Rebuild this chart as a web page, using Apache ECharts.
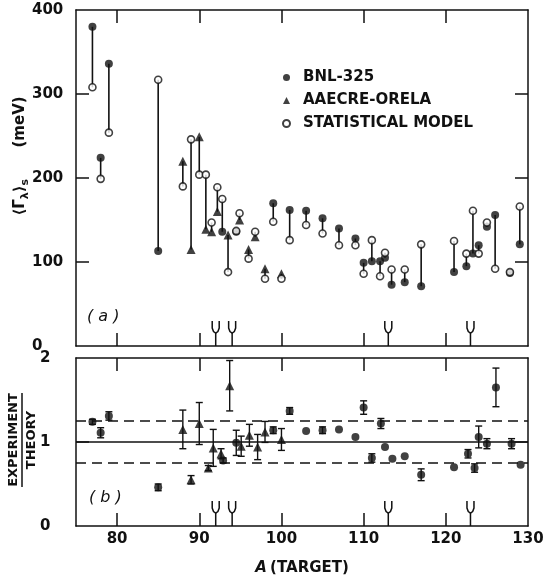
<!DOCTYPE html>
<html><head><meta charset="utf-8">
<script src="https://cdn.jsdelivr.net/npm/echarts@6/dist/echarts.min.js"></script>
<style>html,body{margin:0;padding:0;background:#fff;}#c{width:543px;height:583px;}</style>
</head><body><div id="c"></div>
<script>
// ---- Data ----
const bnlA      = [77,78,79,85,92.8,94.5,99,101,103,105,107,109,110,111,112,112.6,113.4,115,117,121,122.5,123.3,124,125,126,127.8,129];
const bnlGamma  = [380,224,336,113,136,136,170,162,161,152,140,128,99,101,101,105,73,76,71,88,95,110,120,142,156,87,121];
const bnlModel  = [308,199,254,317,175,137,148,126,144,134,120,120,86,126,83,111,91,91,121,125,110,161,110,147,92,88,166];

const aaA       = [88,89,90,90.8,91.5,92.2,93.5,94.9,96,96.8,98,100];
const aaGamma   = [220,115,249,139,136,160,132,150,115,130,92,86];
const aaModel   = [190,246,204,204,147,189,88,158,104,136,80,80];

const bnlRatioA   = [77,78,79,85,92.9,94.5,99,101,103,105,107,109,110,111,112.1,112.6,113.5,115,117,121,122.7,123.5,124,125,126.1,128,129.1];
const bnlRatio    = [1.24,1.11,1.31,0.46,0.78,0.99,1.14,1.37,1.13,1.14,1.15,1.06,1.41,0.81,1.22,0.94,0.80,0.83,0.61,0.70,0.86,0.69,1.06,0.98,1.65,0.98,0.73];
const bnlRatioErr = [0.03,0.06,0.05,0.04,0.03,0.15,0.04,0.04,0,0.04,0,0,0.08,0.05,0.06,0,0,0,0.07,0,0.05,0.05,0.13,0.06,0.23,0.06,0];

const aaRatioA   = [88,89,90,91.1,91.7,92.65,93.7,95.1,96.1,97.1,98,100];
const aaRatio    = [1.15,0.55,1.22,0.69,0.93,0.86,1.67,0.95,1.08,0.94,1.12,1.03];
const aaRatioErr = [0.23,0.05,0.25,0.03,0.22,0.06,0.30,0.12,0.13,0.15,0.125,0.13];

const markerA      = [92,94,113,123];
const xTickValues  = [80,90,100,110,120];
const xLabelValues = [80,90,100,110,120,130];
const topYLabels   = [0,100,200,300,400];
const topYTicks    = [100,200,300];
const botYLabels   = [0,1,2];
const botYTicks    = [1];
const dashedLevels = [0.75,1.25];
const solidLevel   = [1];

// ---- Chart ----
const INK = '#111';
const FONT = 'DejaVu Sans';
const chart = echarts.init(document.getElementById('c'), null, {renderer:'canvas'});

function zip(a,b){return a.map((v,i)=>[v,b[i]]);}
function zip3(a,b,c){return a.map((v,i)=>[v,b[i],c[i]]);}

const tickStyle = {show:true, inside:true, length:13, lineStyle:{color:INK,width:1.5}};
const lineStyle = {show:true, onZero:false, lineStyle:{color:INK,width:1.5}};
function xAx(gi, pos, labels){
  return {type:'value', gridIndex:gi, position:pos, min:75, max:130,
    axisLine:lineStyle, splitLine:{show:false},
    axisTick:Object.assign({customValues:xTickValues}, tickStyle),
    axisLabel: labels ? {show:true, customValues:xLabelValues, color:INK, fontFamily:FONT, fontWeight:'bold', fontSize:15, margin:6} : {show:false}};
}
function yAx(gi, pos, min, max, labelVals, tickVals, margin){
  return {type:'value', gridIndex:gi, position:pos, min:min, max:max,
    axisLine:lineStyle, splitLine:{show:false},
    axisTick:Object.assign({customValues:tickVals}, tickStyle),
    axisLabel: labelVals ? {show:true, customValues:labelVals, align:'left', margin:margin, color:INK, fontFamily:FONT, fontWeight:'bold', fontSize:15} : {show:false}};
}

function connectorItem(params, api){
  const p1 = api.coord([api.value(0), api.value(1)]);
  const p2 = api.coord([api.value(0), api.value(2)]);
  return {type:'line', shape:{x1:p1[0],y1:p1[1],x2:p2[0],y2:p2[1]}, style:{stroke:INK, lineWidth:1.6}};
}
function errItem(params, api){
  const a = api.value(0), lo = api.value(1), hi = api.value(2);
  if (!(hi > lo)) return null;
  const p1 = api.coord([a, lo]), p2 = api.coord([a, hi]);
  const w = 3.5;
  return {type:'group', children:[
    {type:'line', shape:{x1:p1[0],y1:p1[1],x2:p2[0],y2:p2[1]}, style:{stroke:INK,lineWidth:1.4}},
    {type:'line', shape:{x1:p1[0]-w,y1:p1[1],x2:p1[0]+w,y2:p1[1]}, style:{stroke:INK,lineWidth:1.4}},
    {type:'line', shape:{x1:p2[0]-w,y1:p2[1],x2:p2[0]+w,y2:p2[1]}, style:{stroke:INK,lineWidth:1.4}}
  ]};
}
function markerItem(params, api){
  const p = api.coord([api.value(0), 0]);
  const x = p[0], y = p[1];
  return {type:'group', children:[
    {type:'line', shape:{x1:x,y1:y,x2:x,y2:y-13}, style:{stroke:INK,lineWidth:1.5}},
    {type:'polyline', shape:{points:[[x-3.5,y-25],[x-3.5,y-18],[x-2.2,y-14.5],[x,y-13],[x+2.2,y-14.5],[x+3.5,y-18],[x+3.5,y-25]]},
     style:{stroke:INK,lineWidth:1.5,fill:null}}
  ]};
}

const connectorData = zip3(bnlA,bnlGamma,bnlModel).concat(zip3(aaA,aaGamma,aaModel));
const modelData = zip(bnlA,bnlModel).concat(zip(aaA,aaModel));
const bnlErrData = bnlRatioA.map((a,i)=>[a, bnlRatio[i]-bnlRatioErr[i], bnlRatio[i]+bnlRatioErr[i]]);
const aaErrData  = aaRatioA.map((a,i)=>[a, aaRatio[i]-aaRatioErr[i], aaRatio[i]+aaRatioErr[i]]);

const option = {
  animation:false,
  backgroundColor:'#fff',
  textStyle:{fontFamily:FONT},
  grid:[
    {left:76, right:15, top:10, height:336, show:false, containLabel:false, outerBoundsMode:'none'},
    {left:76, right:15, top:358, height:168, show:false, containLabel:false, outerBoundsMode:'none'}
  ],
  xAxis:[ xAx(0,'bottom',false), xAx(0,'top',false), xAx(1,'bottom',true), xAx(1,'top',false) ],
  yAxis:[
    yAx(0,'left',0,400,topYLabels,topYTicks,44),
    yAx(0,'right',0,400,null,topYTicks,0),
    yAx(1,'left',0,2,botYLabels,botYTicks,36),
    yAx(1,'right',0,2,null,botYTicks,0)
  ],
  legend:{
    orient:'vertical', left:277, top:65, itemGap:8, itemWidth:7, itemHeight:7,
    selectedMode:false,
    textStyle:{color:INK, fontFamily:FONT, fontWeight:'bold', fontSize:15, padding:[0,0,0,8]},
    data:['BNL-325','AAECRE-ORELA','STATISTICAL MODEL']
  },
  graphic:[
    {type:'text', left:87, top:309, style:{text:'( a )', font:'italic 16px "DejaVu Sans"', fill:INK}},
    {type:'text', left:89, top:490, style:{text:'( b )', font:'italic 16px "DejaVu Sans"', fill:INK}},
    {type:'text', x:20, y:156, rotation:Math.PI/2,
      style:{
        text:'{m|⟨Γ}{s|λ}{m|⟩}{s|s}{m|      (meV)}',
        align:'center', verticalAlign:'middle', fill:INK,
        rich:{
          m:{fontFamily:FONT, fontWeight:'bold', fontSize:15, lineHeight:22, verticalAlign:'middle', fill:INK},
          s:{fontFamily:FONT, fontWeight:'bold', fontSize:11, lineHeight:22, verticalAlign:'bottom', fill:INK}
        }
      }},
    {type:'group', x:22, y:440, rotation:Math.PI/2, children:[
      {type:'text', x:0, y:-2, style:{text:'EXPERIMENT', align:'center', verticalAlign:'bottom', fill:INK, font:'bold 13px "DejaVu Sans"'}},
      {type:'line', shape:{x1:-47,y1:0,x2:47,y2:0}, style:{stroke:INK, lineWidth:1.5}},
      {type:'text', x:0, y:3, style:{text:'THEORY', align:'center', verticalAlign:'top', fill:INK, font:'bold 13px "DejaVu Sans"'}}
    ]},
    {type:'text', x:302, y:568, style:{
      text:'{i|A} {n|(TARGET)}', align:'center', verticalAlign:'middle', fill:INK,
      rich:{
        i:{fontFamily:FONT, fontStyle:'italic', fontWeight:'bold', fontSize:15, fill:INK},
        n:{fontFamily:FONT, fontWeight:'bold', fontSize:15, fill:INK}
      }}}
  ],
  series:[
    // Top panel
    {type:'custom', name:'conn', xAxisIndex:0, yAxisIndex:0, renderItem:connectorItem,
      encode:{x:0, y:[1,2]}, data:connectorData, z:1, silent:true},
    {type:'custom', name:'markTop', xAxisIndex:0, yAxisIndex:0, renderItem:markerItem,
      encode:{x:0}, data:markerA.map(a=>[a]), z:1, silent:true},
    {type:'scatter', name:'BNL-325', xAxisIndex:0, yAxisIndex:0, symbol:'circle', symbolSize:8,
      itemStyle:{color:INK}, data:zip(bnlA,bnlGamma), z:3},
    {type:'scatter', name:'AAECRE-ORELA', xAxisIndex:0, yAxisIndex:0, symbol:'triangle', symbolSize:9,
      itemStyle:{color:INK}, data:zip(aaA,aaGamma), z:3},
    {type:'scatter', name:'STATISTICAL MODEL', xAxisIndex:0, yAxisIndex:0, symbol:'circle', symbolSize:7,
      itemStyle:{color:'#fff', borderColor:INK, borderWidth:1.6}, data:modelData, z:4},
    // Bottom panel
    {type:'custom', name:'markBot', xAxisIndex:2, yAxisIndex:2, renderItem:markerItem,
      encode:{x:0}, data:markerA.map(a=>[a]), z:1, silent:true},
    {type:'custom', name:'errBnl', xAxisIndex:2, yAxisIndex:2, renderItem:errItem,
      encode:{x:0, y:[1,2]}, data:bnlErrData, z:2, silent:true},
    {type:'custom', name:'errAa', xAxisIndex:2, yAxisIndex:2, renderItem:errItem,
      encode:{x:0, y:[1,2]}, data:aaErrData, z:2, silent:true},
    {type:'scatter', name:'ratioBnl', xAxisIndex:2, yAxisIndex:2, symbol:'circle', symbolSize:8,
      itemStyle:{color:INK}, data:zip(bnlRatioA,bnlRatio), z:3,
      markLine:{silent:true, symbol:'none', label:{show:false},
        lineStyle:{color:INK, width:1.5, type:[10,6]},
        data:dashedLevels.map(v=>({yAxis:v}))}},
    {type:'scatter', name:'ratioAa', xAxisIndex:2, yAxisIndex:2, symbol:'triangle', symbolSize:9,
      itemStyle:{color:INK}, data:zip(aaRatioA,aaRatio), z:3,
      markLine:{silent:true, symbol:'none', label:{show:false},
        lineStyle:{color:INK, width:1.5, type:'solid'},
        data:solidLevel.map(v=>({yAxis:v}))}}
  ]
};
chart.setOption(option);
</script>
</body></html>
